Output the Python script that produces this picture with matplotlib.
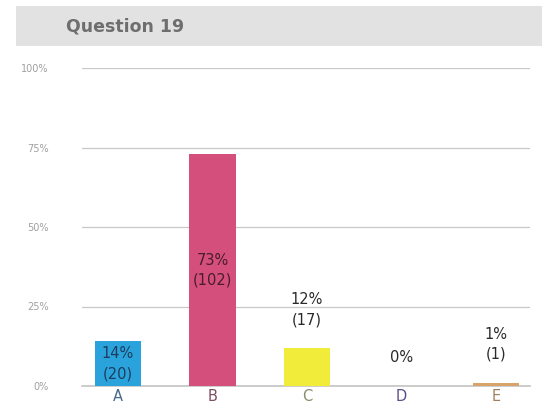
import matplotlib.pyplot as plt
import matplotlib.patches as patches

plt.rcParams['font.family'] = ['DejaVu Sans']

categories = ['A', 'B', 'C', 'D', 'E']
percents = [14, 73, 12, 0, 1]
counts = [20, 102, 17, 0, 1]
bar_colors = ['#2aa3dc', '#d44f7b', '#f1eb3a', '#8a7ac0', '#d9a46c']
tick_colors = ['#4c6a8c', '#7c4c60', '#8a8a6c', '#5c4c8c', '#a0805e']
inside_colors = ['#1d3d5e', '#4a1c2c']


def make_chart(filename='out.png'):
    fig = plt.figure(figsize=(5.42, 4.07), dpi=100)
    fig.patch.set_facecolor('white')

    # header band
    fig.patches.append(patches.Rectangle((16 / 542, 1 - 46 / 407), 1, 40 / 407,
                                         transform=fig.transFigure,
                                         facecolor='#e2e2e2', edgecolor='none'))
    fig.text(66 / 542, 1 - 27 / 407, 'Question 19', fontsize=12.5,
             fontweight='semibold', color='#6e6e6e', va='center', ha='left')

    ax = fig.add_axes([82 / 542, 1 - 386 / 407, 448 / 542, 318 / 407])
    x = range(len(categories))
    ax.bar(x, percents, width=0.49, color=bar_colors, zorder=2)

    ax.set_ylim(0, 100)
    ax.set_xlim(-0.38, 4.36)
    ax.set_yticks([0, 25, 50, 75, 100])
    ax.set_yticklabels(['0%', '25%', '50%', '75%', '100%'], fontsize=7,
                       color='#a0a0a0')
    ax.tick_params(axis='y', length=0, pad=24)
    ax.grid(axis='y', color='#c8c8c8', lw=0.9, zorder=0)
    ax.axhline(0, color='#c4c4c4', lw=1.2, zorder=1, clip_on=False)
    ax.set_xticks(list(x))
    ax.set_xticklabels(categories, fontsize=10.5)
    for lab, c in zip(ax.get_xticklabels(), tick_colors):
        lab.set_color(c)
    ax.tick_params(axis='x', length=0, pad=2)
    for s in ax.spines.values():
        s.set_visible(False)

    # value labels
    for i, (p, n) in enumerate(zip(percents, counts)):
        txt = f'{p}%' if n == 0 else f'{p}%\n({n})'
        if p >= 14:
            ax.text(i, p / 2, txt, ha='center', va='center', fontsize=10.5,
                    color=inside_colors[i], linespacing=1.4, zorder=3)
        else:
            ax.annotate(txt, (i, p), xytext=(0, 15), textcoords='offset points',
                        ha='center', va='bottom', fontsize=10.5, color='#2a2a2a',
                        linespacing=1.4, zorder=3)

    fig.savefig(filename, dpi=100)
    plt.close(fig)


if __name__ == '__main__':
    make_chart()
